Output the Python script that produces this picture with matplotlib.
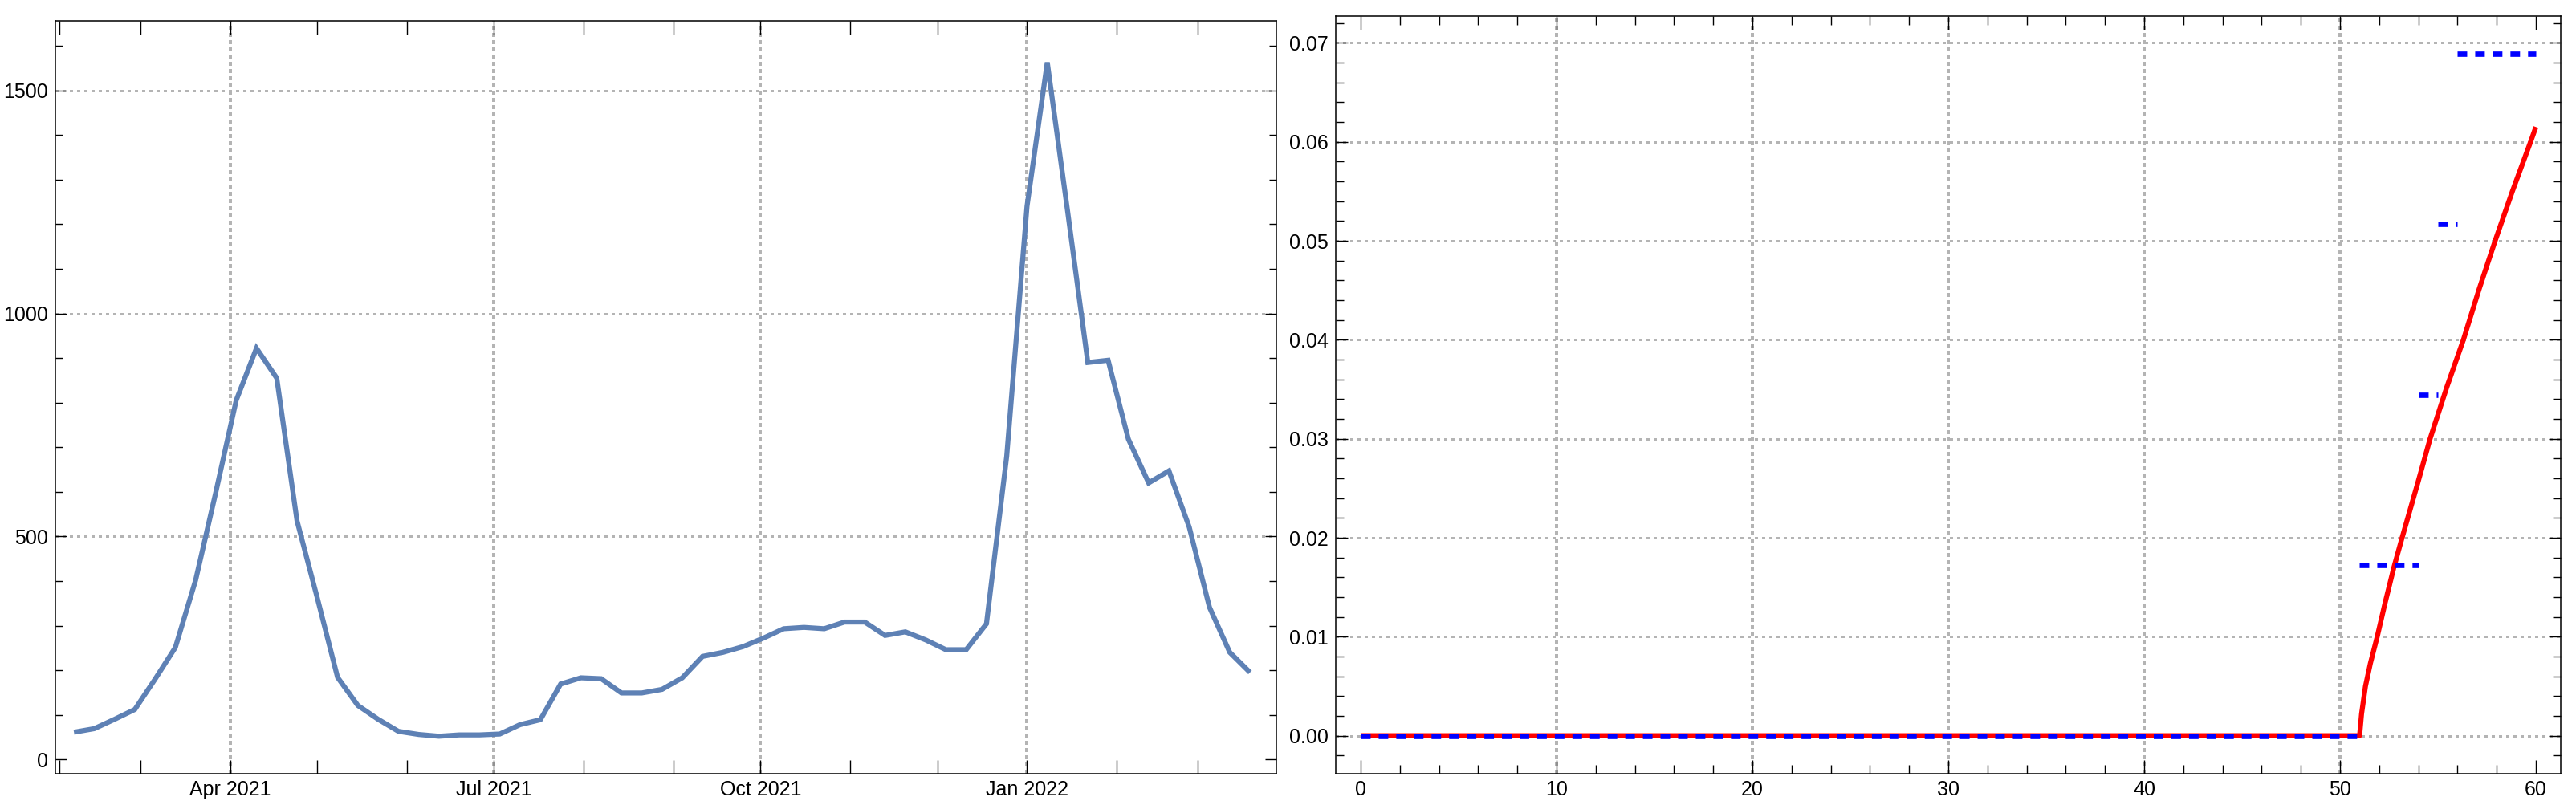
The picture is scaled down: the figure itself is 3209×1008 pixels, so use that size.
import matplotlib
matplotlib.use('Agg')
import matplotlib.pyplot as plt
import matplotlib.dates as mdates
from matplotlib.ticker import FixedLocator, MultipleLocator, FuncFormatter
import pandas as pd
import datetime as dt

plt.rcParams['font.family'] = ['Liberation Sans', 'DejaVu Sans']
plt.rcParams['lines.scale_dashes'] = False

# ---------------- data: left panel (weekly series) ----------------
week_dates = [
    '2021-02-06', '2021-02-13', '2021-02-20', '2021-02-27',
    '2021-03-06', '2021-03-13', '2021-03-20', '2021-03-27',
    '2021-04-03', '2021-04-10', '2021-04-17', '2021-04-24',
    '2021-05-01', '2021-05-08', '2021-05-15', '2021-05-22', '2021-05-29',
    '2021-06-05', '2021-06-12', '2021-06-19', '2021-06-26',
    '2021-07-03', '2021-07-10', '2021-07-17', '2021-07-24', '2021-07-31',
    '2021-08-07', '2021-08-14', '2021-08-21', '2021-08-28',
    '2021-09-04', '2021-09-11', '2021-09-18', '2021-09-25',
    '2021-10-02', '2021-10-09', '2021-10-16', '2021-10-23', '2021-10-30',
    '2021-11-06', '2021-11-13', '2021-11-20', '2021-11-27',
    '2021-12-04', '2021-12-11', '2021-12-18', '2021-12-25',
    '2022-01-01', '2022-01-08', '2022-01-15', '2022-01-22', '2022-01-29',
    '2022-02-05', '2022-02-12', '2022-02-19', '2022-02-26',
    '2022-03-05', '2022-03-12', '2022-03-19',
]
cases = [
    61, 69, 90, 112,
    180, 251, 402, 600,
    805, 922, 855, 535,
    362, 184, 121, 90, 63,
    56, 52, 55, 55,
    57, 78, 89, 169, 183,
    181, 149, 149, 157,
    183, 231, 240, 253,
    272, 293, 296, 293, 308,
    308, 278, 286, 268,
    246, 246, 304, 680,
    1240, 1563, 1230, 890, 895,
    718, 620, 647, 521,
    341, 240, 195,
]
quarter_ticks = ['2021-04-01', '2021-07-01', '2021-10-01', '2022-01-01']
month_ticks = ['2021-02-01', '2021-03-01', '2021-05-01', '2021-06-01',
               '2021-08-01', '2021-09-01', '2021-11-01', '2021-12-01',
               '2022-02-01', '2022-03-01']
left_yticks = [0, 500, 1000, 1500]

# ---------------- data: right panel ----------------
red_x = [0, 51.0, 51.1, 51.3, 51.55, 51.9, 52.3, 52.75, 53.17, 53.98, 54.6,
         55.45, 56.3, 57.1, 57.92, 58.8, 59.73, 60.0]
red_y = [0, 0.0, 0.0022, 0.0050, 0.0073, 0.0100, 0.0134, 0.0170, 0.0200, 0.0256, 0.0300,
         0.0352, 0.0400, 0.0451, 0.0500, 0.0550, 0.0600, 0.0615]
blue_x_start = [0, 51, 54, 55, 56]
blue_x_end = [51, 54, 55, 56, 60]
blue_level = [0.0, 0.01723, 0.03446, 0.05168, 0.06892]
right_xticks = [0, 10, 20, 30, 40, 50, 60]
right_yticks = [0.00, 0.01, 0.02, 0.03, 0.04, 0.05, 0.06, 0.07]

# ---------------- styling ----------------
W, H = 3209, 1008
fig = plt.figure(figsize=(W / 100, H / 100), dpi=100)

GRID_C = '#b4b4b4'
vgrid_kw = dict(color=GRID_C, lw=2.9, dashes=(2.9, 3.1), antialiased=False, zorder=1)
hgrid_kw = dict(color=GRID_C, lw=1.9, dashes=(2.2, 3.6), antialiased=False, zorder=1)
FS = 18


def frame(ax):
    for s in ax.spines.values():
        s.set_linewidth(1.1)
        s.set_color('black')
    ax.tick_params(which='both', direction='in', top=True, right=True,
                   width=1.0, color='black', labelsize=FS)


# ---- left panel ----
axL = fig.add_axes([69 / W, 1 - 964 / H, (1590 - 69) / W, (964 - 26) / H])
frame(axL)
dates = pd.to_datetime(week_dates)
qt = pd.to_datetime(quarter_ticks)
mt = pd.to_datetime(month_ticks)
for d in qt:
    axL.axvline(d, **vgrid_kw)
for v in left_yticks[1:]:
    axL.axhline(v, **hgrid_kw)
axL.plot(dates, cases, color='#5E81B5', lw=4.5, solid_joinstyle='miter',
         solid_capstyle='butt', zorder=3)
axL.set_xlim(dt.datetime(2021, 1, 30, 14), dt.datetime(2022, 3, 28, 2))
axL.set_ylim(-32, 1656)
axL.xaxis.set_major_locator(FixedLocator(mdates.date2num(qt)))
axL.xaxis.set_minor_locator(FixedLocator(mdates.date2num(mt)))
axL.xaxis.set_major_formatter(mdates.DateFormatter('%b %Y'))
axL.yaxis.set_major_locator(FixedLocator(left_yticks))
axL.yaxis.set_minor_locator(MultipleLocator(100))
axL.tick_params(axis='x', which='both', length=12, pad=5.5)
axL.tick_params(axis='y', which='major', length=10, pad=6.5)
axL.tick_params(axis='y', which='minor', length=6.5)

# ---- right panel ----
axR = fig.add_axes([1664 / W, 1 - 964 / H, (3190 - 1664) / W, (964 - 20) / H])
frame(axR)
for v in right_xticks[1:-1]:
    axR.axvline(v, **vgrid_kw)
for v in right_yticks:
    axR.axhline(v, **hgrid_kw)
axR.plot(red_x, red_y, color='#FF0000', lw=4.5, solid_joinstyle='round',
         solid_capstyle='butt', zorder=3)
for x0, x1, lev in zip(blue_x_start, blue_x_end, blue_level):
    axR.plot([x0, x1], [lev, lev], color='#0000FF', lw=4.8,
             dashes=(8.6, 7.2), dash_capstyle='butt', zorder=4)
axR.set_xlim(-1.27, 61.27)
axR.set_ylim(-0.00384, 0.07271)
axR.xaxis.set_major_locator(FixedLocator(right_xticks))
axR.xaxis.set_minor_locator(MultipleLocator(2))
axR.yaxis.set_major_locator(FixedLocator(right_yticks))
axR.yaxis.set_minor_locator(MultipleLocator(0.002))
axR.yaxis.set_major_formatter(FuncFormatter(lambda v, p: f'{v:.2f}'))
axR.tick_params(axis='x', which='major', length=12, pad=5.5)
axR.tick_params(axis='x', which='minor', length=8)
axR.tick_params(axis='y', which='major', length=10.5, pad=6.5)
axR.tick_params(axis='y', which='minor', length=7)

fig.savefig('out.png', dpi=100)
